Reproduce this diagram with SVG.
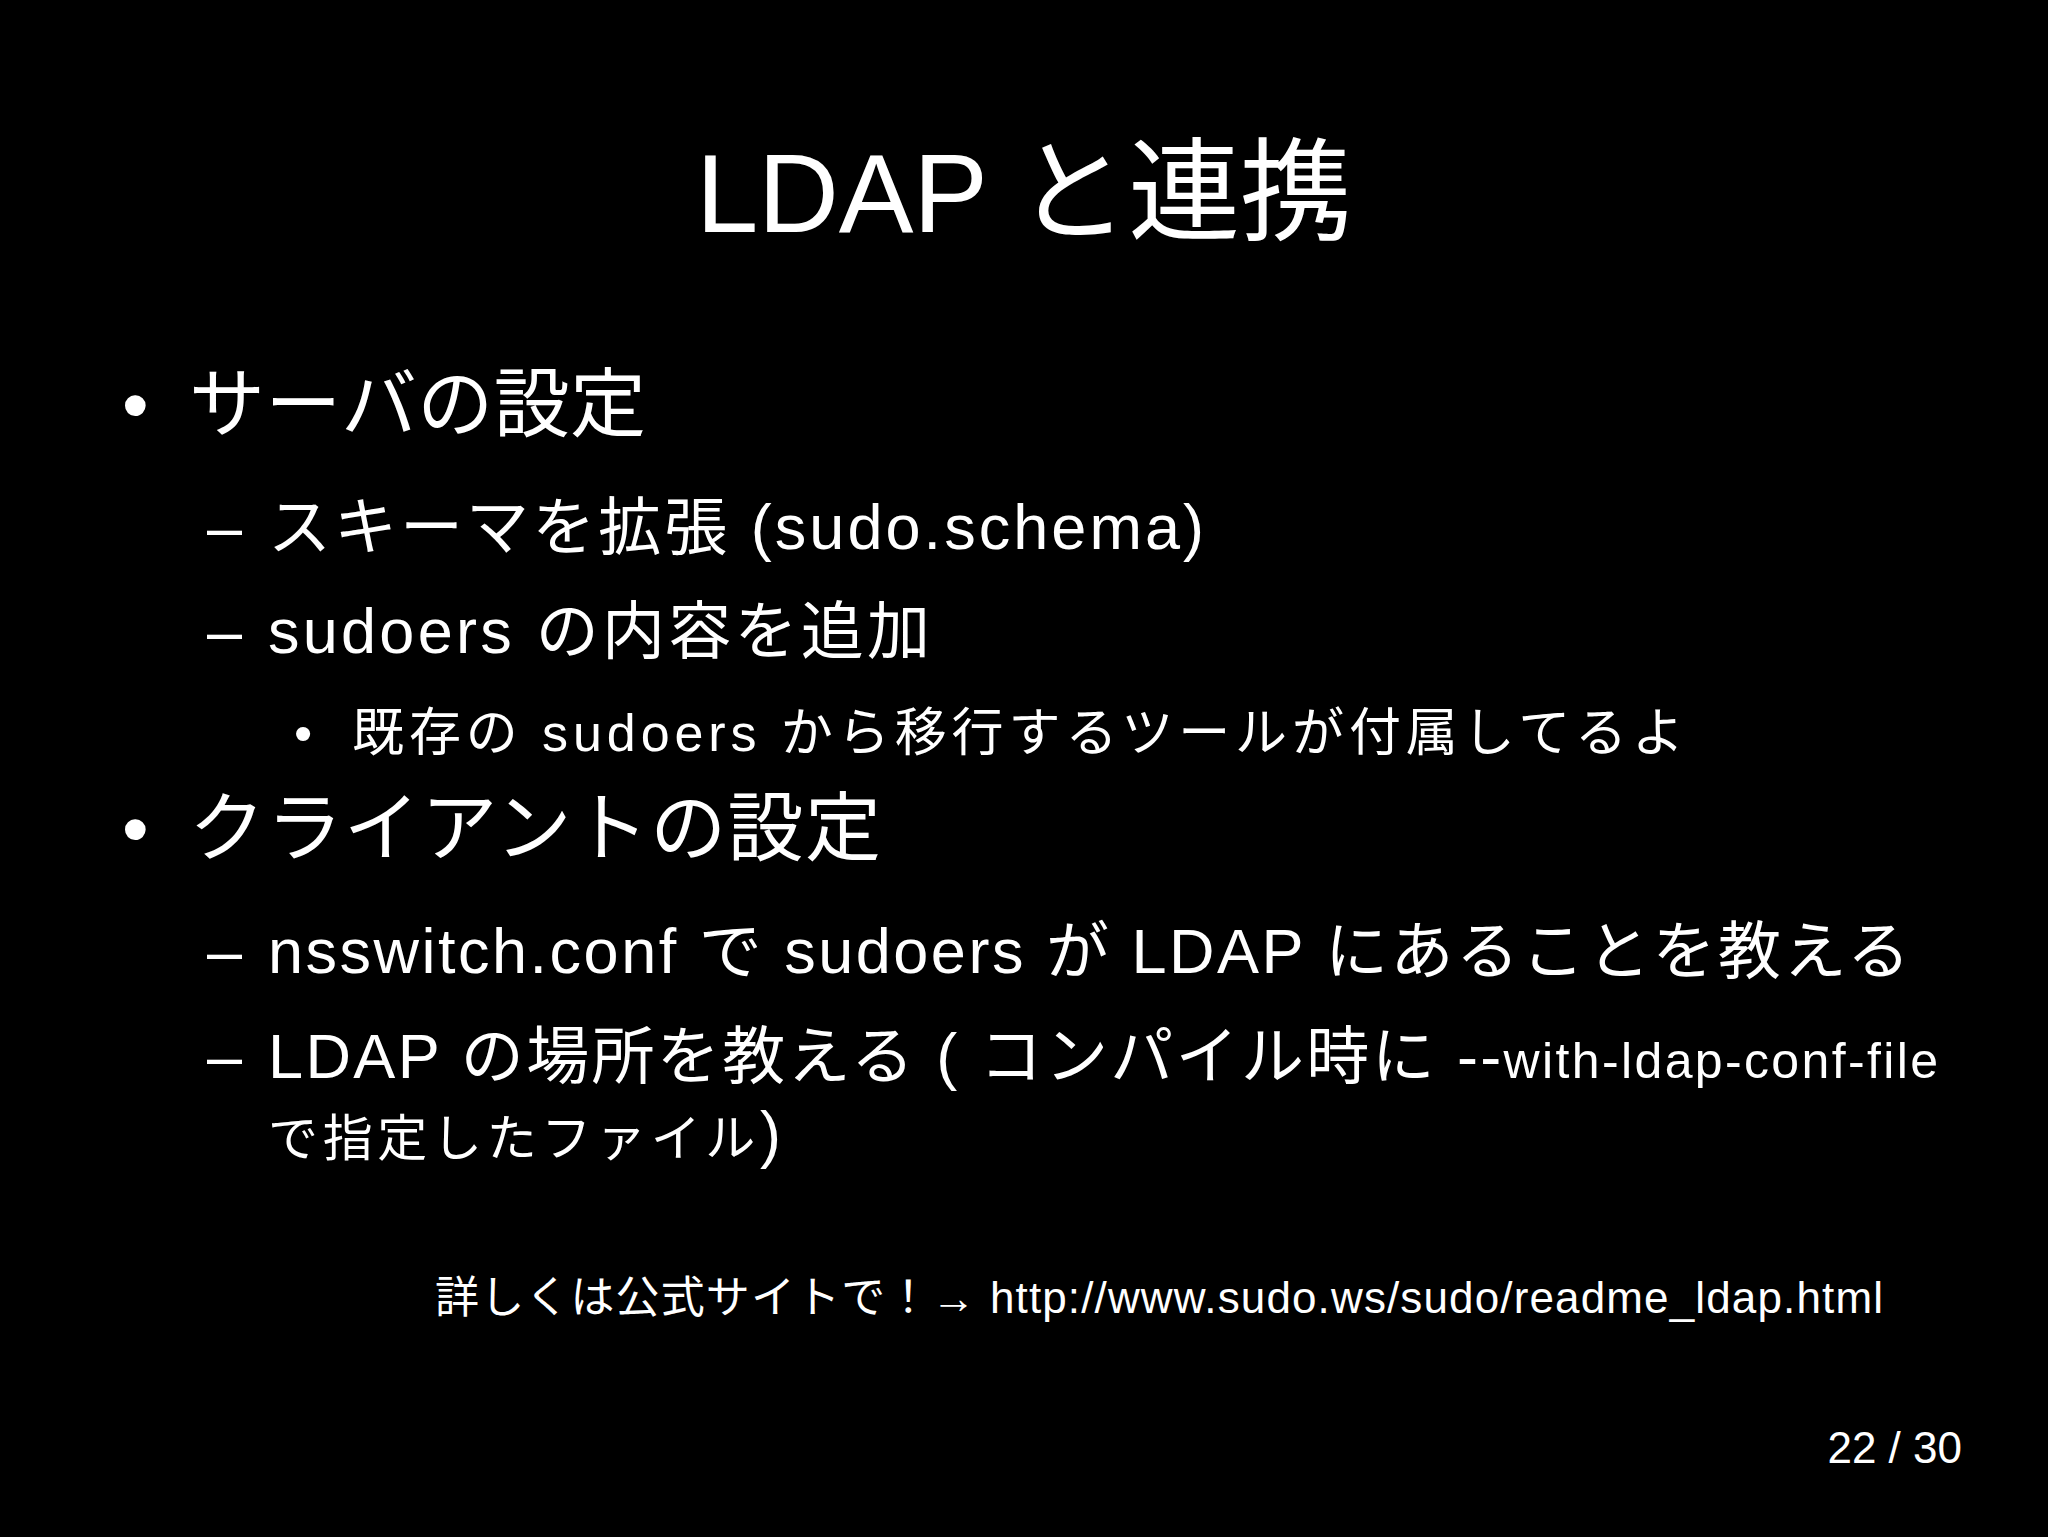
<svg xmlns="http://www.w3.org/2000/svg" width="2048" height="1537" viewBox="0 0 2048 1537">
<style>
text{fill:#fff;font-family:"Liberation Sans","Noto Sans CJK JP",sans-serif}
.t{font-size:112px}
.l1{font-size:76px}
.l2{font-size:63px}
.l3{font-size:52px}
.sm{font-size:50px}
.f{font-size:44px}
</style>
<rect width="2048" height="1537" fill="#000"/>
<text class="t" x="696" y="232" textLength="656" lengthAdjust="spacing">LDAP と連携</text>
<text class="l1" x="122" y="431">•</text>
<text class="l1" x="189" y="431" textLength="457" lengthAdjust="spacing">サーバの設定</text>
<text class="l2" x="207" y="549">–</text>
<text class="l2" x="268" y="549" textLength="936" lengthAdjust="spacing">スキーマを拡張 (sudo.schema)</text>
<text class="l2" x="207" y="653">–</text>
<text class="l2" x="268" y="653" textLength="662" lengthAdjust="spacing">sudoers の内容を追加</text>
<text class="l3" x="294" y="751">•</text>
<text class="l3" x="352" y="751" textLength="1332" lengthAdjust="spacing">既存の sudoers から移行するツールが付属してるよ</text>
<text class="l1" x="122" y="855">•</text>
<text class="l1" x="189" y="855" textLength="692" lengthAdjust="spacing">クライアントの設定</text>
<text class="l2" x="207" y="973">–</text>
<text class="l2" x="268" y="973" textLength="1642" lengthAdjust="spacing">nsswitch.conf で sudoers が LDAP にあることを教える</text>
<text class="l2" x="207" y="1078">–</text>
<text class="l2" x="268" y="1078" textLength="1670" lengthAdjust="spacing">LDAP の場所を教える ( コンパイル時に --<tspan class="sm">with-ldap-conf-file</tspan></text>
<text class="sm" x="268" y="1156" textLength="513" lengthAdjust="spacing">で指定したファイル<tspan class="l2">)</tspan></text>
<text class="f" x="435" y="1313" textLength="1448" lengthAdjust="spacing">詳しくは公式サイトで！→ http://www.sudo.ws/sudo/readme_ldap.html</text>
<text class="f" x="1962" y="1463" text-anchor="end">22 / 30</text>
</svg>
